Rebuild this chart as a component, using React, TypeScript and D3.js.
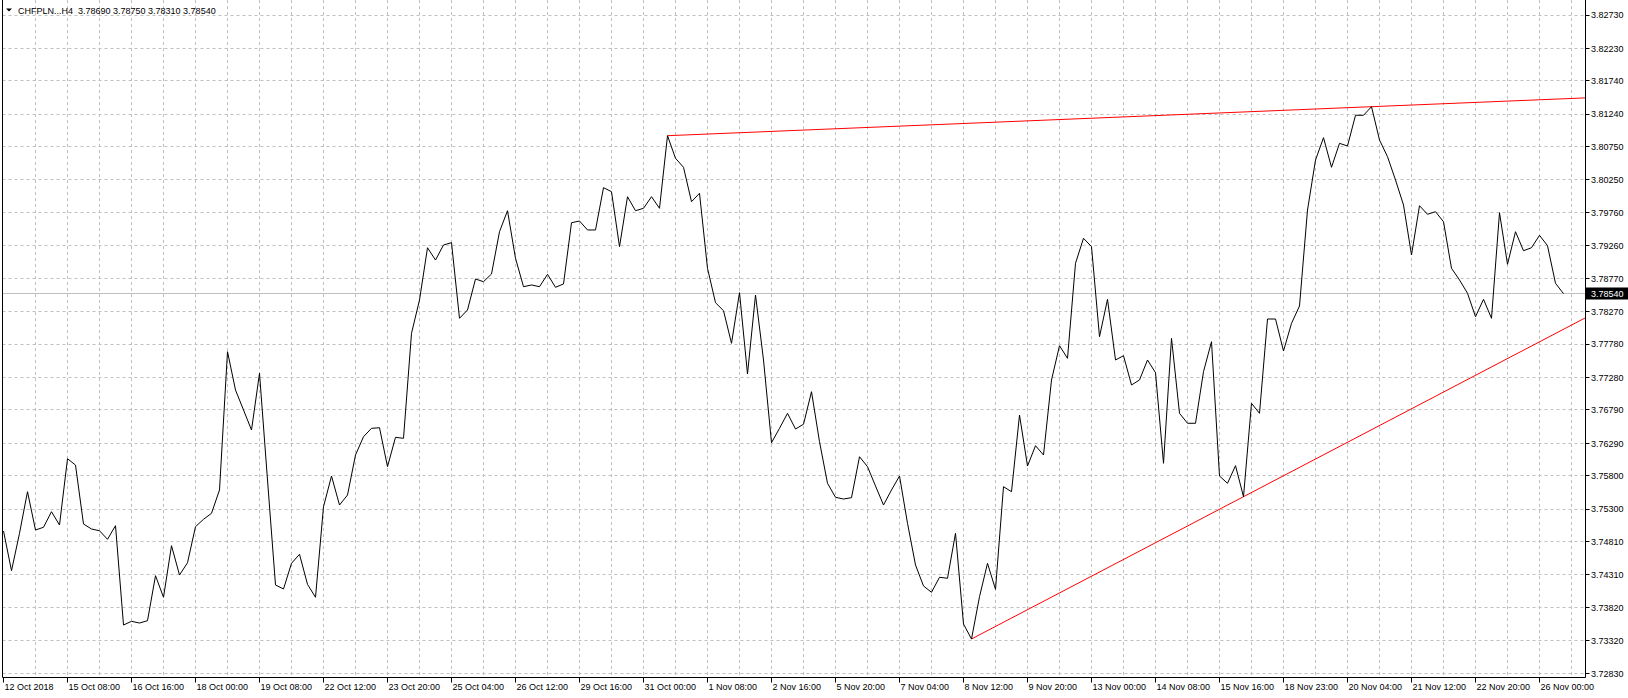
import React from 'react';
import * as d3 from 'd3';

// CHFPLN H4 closes, one per bar (12 Oct 2018 00:00 onward)
const closes = [
  3.7497, 3.74373, 3.74935, 3.75561, 3.74985, 3.75026, 3.7526, 3.7506, 3.76057, 3.75962,
  3.75075, 3.75, 3.74974, 3.74845, 3.7505, 3.73556, 3.73612, 3.73586, 3.73621, 3.74298,
  3.73973, 3.74749, 3.74308, 3.74493, 3.75035, 3.75146, 3.75236, 3.75587, 3.77666, 3.7709,
  3.7679, 3.76489, 3.77342, 3.75737, 3.74158, 3.74098, 3.74484, 3.7462, 3.74168, 3.73973,
  3.75335, 3.75797, 3.75361, 3.75511, 3.76113, 3.76388, 3.76514, 3.76523, 3.75937, 3.76379,
  3.76364, 3.77943, 3.78444, 3.7923, 3.79045, 3.79271, 3.79306, 3.78169, 3.78294, 3.7876,
  3.78719, 3.78835, 3.79471, 3.79787, 3.79071, 3.78644, 3.7867, 3.78644, 3.7883, 3.78635,
  3.78685, 3.79606, 3.79632, 3.79497, 3.79497, 3.80133, 3.80073, 3.79246, 3.79997, 3.79787,
  3.79823, 3.79997, 3.79823, 3.80915, 3.80575, 3.8044, 3.79922, 3.80049, 3.78921, 3.78403,
  3.78283, 3.77793, 3.78554, 3.77331, 3.78519, 3.77542, 3.76298, 3.76514, 3.7674, 3.76504,
  3.76575, 3.77065, 3.76313, 3.75687, 3.75477, 3.75451, 3.75471, 3.76087, 3.75937, 3.75647,
  3.75361, 3.75587, 3.75797, 3.75086, 3.74459, 3.74143, 3.74048, 3.74274, 3.74259, 3.74935,
  3.73571, 3.73346, 3.73982, 3.74484, 3.74093, 3.75636, 3.75561, 3.76714, 3.75947, 3.76253,
  3.76113, 3.77241, 3.77757, 3.77567, 3.78996, 3.79372, 3.79246, 3.77892, 3.78454, 3.77542,
  3.77606, 3.77166, 3.77241, 3.77542, 3.77351, 3.75988, 3.77868, 3.7674, 3.7659, 3.7659,
  3.77366, 3.77817, 3.75797, 3.75687, 3.75952, 3.75486, 3.7689, 3.7674, 3.78158, 3.78158,
  3.77677, 3.78093, 3.78354, 3.79797, 3.80549, 3.80885, 3.8044, 3.808, 3.8076, 3.81222,
  3.81222, 3.81351, 3.8085, 3.80599, 3.80249, 3.79873, 3.79121, 3.79862, 3.79733, 3.79772,
  3.79621, 3.78921, 3.78745, 3.78545, 3.78193, 3.78454, 3.78169, 3.79757, 3.78981, 3.79471,
  3.79185, 3.7923, 3.79417, 3.79261, 3.78695, 3.7854,
];

const priceTicks = [
  3.8273, 3.8223, 3.8174, 3.8124, 3.8075, 3.8025, 3.7976, 3.7926, 3.7877, 3.7827,
  3.7778, 3.7728, 3.7679, 3.7629, 3.758, 3.753, 3.7481, 3.7431, 3.7382, 3.7332, 3.7283,
];

// one label every 8 bars
const timeLabels = [
  '12 Oct 2018', '15 Oct 08:00', '16 Oct 16:00', '18 Oct 00:00', '19 Oct 08:00',
  '22 Oct 12:00', '23 Oct 20:00', '25 Oct 04:00', '26 Oct 12:00', '29 Oct 16:00',
  '31 Oct 00:00', '1 Nov 08:00', '2 Nov 16:00', '5 Nov 20:00', '7 Nov 04:00',
  '8 Nov 12:00', '9 Nov 20:00', '13 Nov 00:00', '14 Nov 08:00', '15 Nov 16:00',
  '18 Nov 23:00', '20 Nov 04:00', '21 Nov 12:00', '22 Nov 20:00', '26 Nov 00:00',
];

// trendlines: two anchors (bar, price), extended to the right edge
const resistance = [
  { bar: 83, price: 3.80915 },
  { bar: 171, price: 3.81351 },
];
const support = [
  { bar: 121, price: 3.73346 },
  { bar: 155, price: 3.75486 },
];

const header = 'CHFPLN...H4  3.78690 3.78750 3.78310 3.78540';
const lastPrice = 3.7854;

const W = 1628;
const H = 698;
const plotLeft = 2.5;
const plotRight = 1585.5;
const plotBottom = 677.5;
const barW = 8;
const x0 = 3.5;
const font = '"Liberation Sans", Arial, sans-serif';
const gridColor = '#c0c0c0';

const App: React.FC = () => {
  const x = d3.scaleLinear().domain([0, 1]).range([x0, x0 + barW]);
  const y = d3.scaleLinear().domain([3.7283, 3.8273]).range([673.3, 15]);
  const crisp = (v: number) => Math.round(v - 0.5) + 0.5;

  const line = d3.line<number>()
    .x((_, i) => x(i))
    .y(d => y(d));

  const lastBar = x.invert(plotRight);
  const extend = (pts: { bar: number; price: number }[]) => {
    const slope = (pts[1].price - pts[0].price) / (pts[1].bar - pts[0].bar);
    return {
      x1: x(pts[0].bar), y1: y(pts[0].price),
      x2: x(lastBar), y2: y(pts[1].price + slope * (lastBar - pts[1].bar)),
    };
  };
  const res = extend(resistance);
  const sup = extend(support);

  const vGrid = d3.range(4, Math.floor(lastBar) + 1, 4);
  const yLast = crisp(y(lastPrice));

  return (
    <div>
      <style>{'body{margin:0}'}</style>
      <svg width={W} height={H} style={{ display: 'block', background: '#fff' }}>
        {/* grid */}
        <g stroke={gridColor} strokeWidth={1} strokeDasharray="3,3">
          {vGrid.map(b => (
            <line key={`v${b}`} x1={x(b)} x2={x(b)} y1={0} y2={plotBottom} />
          ))}
          {priceTicks.map(t => (
            <line key={`h${t}`} x1={plotLeft} x2={plotRight} y1={crisp(y(t))} y2={crisp(y(t))} />
          ))}
        </g>

        {/* current price line */}
        <line x1={plotLeft} x2={plotRight} y1={yLast} y2={yLast} stroke={gridColor} strokeWidth={1} />

        {/* trendlines */}
        <g stroke="#ff0000" strokeWidth={1}>
          <line {...res} />
          <line {...sup} />
        </g>

        {/* price line */}
        <path d={line(closes) || ''} fill="none" stroke="#000" strokeWidth={1} />

        {/* frame */}
        <g stroke="#000" strokeWidth={1}>
          <line x1={plotLeft} x2={plotLeft} y1={0} y2={plotBottom} />
          <line x1={plotRight} x2={plotRight} y1={0} y2={plotBottom} />
          <line x1={plotLeft} x2={plotRight} y1={plotBottom} y2={plotBottom} />
        </g>

        {/* price axis */}
        <g fontFamily={font} fontSize={9} fill="#000">
          {priceTicks.map(t => (
            <g key={`p${t}`}>
              <line x1={plotRight} x2={plotRight + 4} y1={crisp(y(t))} y2={crisp(y(t))} stroke="#000" />
              <text x={1591} y={y(t) + 3.3}>{t.toFixed(5)}</text>
            </g>
          ))}
          <rect x={1586} y={yLast - 6} width={42} height={12} fill="#000" />
          <text x={1591} y={yLast + 3.3} fill="#fff">{lastPrice.toFixed(5)}</text>
        </g>

        {/* time axis */}
        <g fontFamily={font} fontSize={9} fill="#000">
          {timeLabels.map((lab, k) => {
            const tx = x(k * 8);
            return (
              <g key={lab}>
                <line x1={tx} x2={tx} y1={plotBottom} y2={plotBottom + 5} stroke="#000" />
                <text x={tx + 1} y={689.5}>{lab}</text>
              </g>
            );
          })}
        </g>

        {/* header */}
        <path d="M6,8.5 L12,8.5 L9,11.5 Z" fill="#000" />
        <text x={18} y={14} fontFamily={font} fontSize={9} fill="#000" style={{ whiteSpace: 'pre' }}>
          {header}
        </text>
      </svg>
    </div>
  );
};

export default App;
